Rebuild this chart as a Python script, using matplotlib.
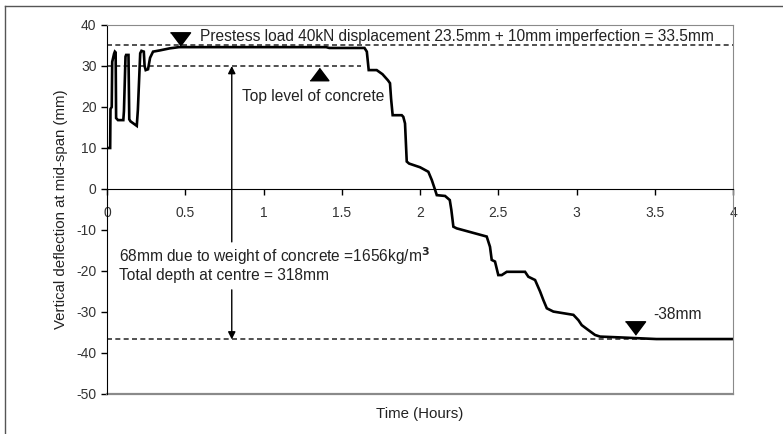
import matplotlib.pyplot as plt
from matplotlib.lines import Line2D

plt.rcParams['font.family'] = ['Liberation Sans', 'DejaVu Sans']
plt.rcParams['axes.unicode_minus'] = False

# deflection trace (hours, mm)
time_h = [0.005, 0.02, 0.022, 0.03, 0.033, 0.045, 0.05, 0.055, 0.058, 0.07,
          0.104, 0.108, 0.118, 0.122, 0.137, 0.142, 0.15, 0.19, 0.197, 0.212,
          0.22, 0.235, 0.24, 0.247, 0.262, 0.275, 0.294, 0.337, 0.40, 0.46,
          1.40, 1.42, 1.645, 1.66, 1.672, 1.723, 1.76, 1.795, 1.808, 1.815,
          1.825, 1.883, 1.893, 1.904, 1.915, 1.93, 2.0, 2.053, 2.075, 2.096,
          2.107, 2.16, 2.19, 2.20, 2.213, 2.234, 2.33, 2.426, 2.447, 2.458,
          2.479, 2.50, 2.522, 2.554, 2.671, 2.692, 2.735, 2.767, 2.788, 2.81,
          2.852, 2.98, 3.012, 3.033, 3.075, 3.118, 3.15, 3.278, 3.51, 4.0]
deflection = [10, 10, 19.5, 20, 31, 33, 33.5, 33.3, 17.3, 16.8,
              16.8, 19, 32.3, 32.7, 32.7, 17, 16.5, 15.4, 19.3, 33.1,
              33.7, 33.5, 30, 29, 29.2, 32, 33.5, 33.8, 34.3, 34.6,
              34.6, 34.4, 34.4, 33.5, 29.0, 29.0, 28.0, 26.5, 25.8, 22,
              18.0, 18.0, 17.6, 16.0, 6.7, 6.2, 5.3, 4.2, 2.2, -0.2,
              -1.5, -1.7, -2.7, -5.1, -9.2, -9.6, -10.6, -11.6, -14.1, -17.3,
              -17.7, -21.0, -21.0, -20.2, -20.2, -21.4, -22.2, -25.0, -27.1, -29.1,
              -29.9, -30.7, -32.0, -33.2, -34.4, -35.6, -36.0, -36.2, -36.6, -36.6]

prestress_level = 35.0
concrete_top = 30.0
final_level = -36.7

x_ticks = [0, 0.5, 1, 1.5, 2, 2.5, 3, 3.5, 4]
x_tick_labels = ['0', '0.5', '1', '1.5', '2', '2.5', '3', '3.5', '4']
y_ticks = [-50, -40, -30, -20, -10, 0, 10, 20, 30, 40]

fig = plt.figure(figsize=(7.83, 4.34), dpi=100)
ax = fig.add_axes([0.1367, 0.0922, 0.7995, 0.8502])

# outer frame (only top and left visible in the picture)
fig.add_artist(Line2D([0.0064, 1.0], [0.986, 0.986], color='#555555', lw=1))
fig.add_artist(Line2D([0.0064, 0.0064], [0.0, 0.986], color='#555555', lw=1))

dash_kw = dict(color='#333333', lw=1.2, ls=(0, (3, 2)))
ax.plot([0, 4], [prestress_level, prestress_level], **dash_kw)
ax.plot([0, 1.62], [concrete_top, concrete_top], **dash_kw)
ax.plot([0, 4], [final_level, final_level], **dash_kw)

ax.plot(time_h, deflection, color='black', lw=1.9, solid_joinstyle='miter')

# triangles
tri_down = [(-1.5, 1), (1.5, 1), (0, -1)]
tri_up = [(-1.5, -1), (1.5, -1), (0, 1)]
ax.plot([0.466], [36.7], marker=tri_down, ms=14.5, color='black', ls='none')
ax.plot([1.355], [28.0], marker=tri_up, ms=13.5, color='black', ls='none')
ax.plot([3.374], [-33.8], marker=tri_down, ms=14.5, color='black', ls='none')

# vertical arrow split by text
arr = dict(arrowstyle='-|>', color='black', lw=1, mutation_scale=11,
           shrinkA=0, shrinkB=0)
ax.annotate('', xy=(0.797, concrete_top), xytext=(0.797, -12.9), arrowprops=arr)
ax.annotate('', xy=(0.797, final_level), xytext=(0.797, -24.6), arrowprops=arr)

txt = '#222222'
fs = 11.2
ax.text(0.594, 37.2, 'Prestess load 40kN displacement 23.5mm + 10mm imperfection = 33.5mm',
        fontsize=fs, color=txt, va='center', ha='left')
ax.text(0.862, 22.5, 'Top level of concrete', fontsize=fs, color=txt,
        va='center', ha='left')
ax.text(0.077, -16.3, r'68mm due to weight of concrete =1656kg/m$^\mathbf{3}$',
        fontsize=fs, color=txt, va='center', ha='left')
ax.text(0.077, -21.2, 'Total depth at centre = 318mm', fontsize=fs, color=txt,
        va='center', ha='left')
ax.text(3.49, -30.7, '-38mm', fontsize=fs, color=txt, va='center', ha='left')

ax.set_xlim(0, 4)
ax.set_ylim(-50, 40)
ax.set_xticks(x_ticks)
ax.set_xticklabels(x_tick_labels)
ax.set_yticks(y_ticks)

ax.spines['bottom'].set_position(('data', 0))
ax.spines['bottom'].set_color('black')
ax.spines['left'].set_color('black')
ax.spines['top'].set_color('#8a8a8a')
ax.spines['right'].set_color('#8a8a8a')
ax.axhline(-50, color='#8a8a8a', lw=1.6, clip_on=False)
ax.tick_params(axis='both', direction='out', length=4, width=1,
               labelsize=10, labelcolor='#333333')
ax.tick_params(axis='x', pad=8)

ax.set_ylabel('Vertical deflection at mid-span (mm)', fontsize=10.8,
              color=txt, labelpad=6)
ax.text(0.5, -0.035, 'Time (Hours)', transform=ax.transAxes, fontsize=10.8,
        color=txt, ha='center', va='top')

fig.savefig('out.png', dpi=100)
